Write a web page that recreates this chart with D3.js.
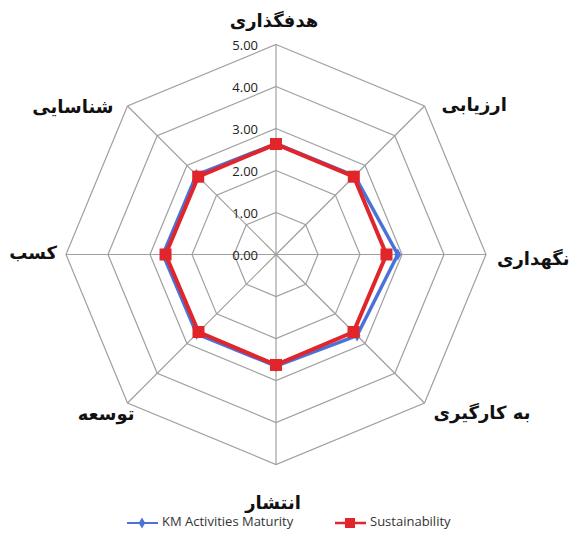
<!DOCTYPE html>
<html>
<head>
<meta charset="utf-8">
<script src="https://cdn.jsdelivr.net/npm/d3@7"></script>
<style>
  body { margin: 0; background: #fff; }
  .axisLabel { font-family: "DejaVu Sans", sans-serif; font-weight: bold; font-size: 18px; fill: #111; }
  .tick { font-family: "Open Sans", sans-serif; font-size: 13px; fill: #222; }
  .legend { font-family: "Open Sans", sans-serif; font-size: 13px; fill: #333; }
</style>
</head>
<body>
<svg id="svgRadar" width="570" height="541"></svg>
<script>
// axes, clockwise from the top
var axes = ["هدفگذاری", "ارزیابی", "نگهداری", "به کارگیری", "انتشار", "توسعه", "کسب", "شناسایی"];
var ticks = [0, 1, 2, 3, 4, 5];
var seriesNames = ["KM Activities Maturity", "Sustainability"];
var maturity = [2.64, 2.65, 2.90, 2.73, 2.66, 2.67, 2.69, 2.68];
var sustainability = [2.63, 2.62, 2.63, 2.61, 2.63, 2.61, 2.63, 2.62];

var colors = d3.scaleOrdinal(seriesNames, ["#4a72d8", "#e0252b"]);

// label offsets from the outer vertex, per axis (layout only)
var labelOffsets = [[-2, -23, "middle"], [17, 0, "start"], [11, 5, "start"], [9, 11, "start"],
  [-3, 39, "middle"], [7, 12, "end"], [-9, -1, "end"], [-14, 2, "end"]];

function makeRadar(svgID) {
  /*   Draws the radar chart.
       Args:
         svgID    The id of the svg.
  */
  var svg = d3.select("#svg" + svgID),
    cx = 276, cy = 254.5,
    g = svg.append("g").attr("transform", "translate(" + cx + "," + cy + ")");

  var r = d3.scaleLinear().domain([0, 5]).range([0, 210]);
  var angle = d3.scaleLinear().domain([0, axes.length]).range([0, 2 * Math.PI]);

  function point(i, v) {
    var a = angle(i);
    return [Math.sin(a) * r(v), -Math.cos(a) * r(v)];
  }

  // rings
  g.selectAll(".ring")
    .data(ticks.slice(1))
    .enter().append("polygon")
    .attr("class", "ring")
    .attr("points", function(t) {
      return axes.map(function(d, i) { return point(i, t).join(","); }).join(" ");
    })
    .attr("fill", "none")
    .attr("stroke", "#a0a0a0")
    .attr("stroke-width", 1.2);

  // spokes
  g.selectAll(".spoke")
    .data(axes)
    .enter().append("line")
    .attr("class", "spoke")
    .attr("x1", 0).attr("y1", 0)
    .attr("x2", function(d, i) { return point(i, 5)[0]; })
    .attr("y2", function(d, i) { return point(i, 5)[1]; })
    .attr("stroke", "#a0a0a0")
    .attr("stroke-width", 1.2);

  // tick labels
  g.selectAll(".tick")
    .data(ticks)
    .enter().append("text")
    .attr("class", "tick")
    .attr("x", -18)
    .attr("y", function(t) { return -r(t) + 2; })
    .attr("text-anchor", "end")
    .attr("dominant-baseline", "middle")
    .text(function(t) { return d3.format(".2f")(t); });

  // axis labels
  g.selectAll(".axisLabel")
    .data(axes)
    .enter().append("text")
    .attr("class", "axisLabel")
    .attr("x", function(d, i) { return point(i, 5)[0] + labelOffsets[i][0]; })
    .attr("y", function(d, i) { return point(i, 5)[1] + labelOffsets[i][1]; })
    .attr("text-anchor", function(d, i) { return labelOffsets[i][2]; })
    .attr("dominant-baseline", "middle")
    .text(function(d) { return d; });

  var line = d3.lineRadial()
    .angle(function(d, i) { return angle(i); })
    .radius(function(d) { return r(d); })
    .curve(d3.curveLinearClosed);

  var series = [[seriesNames[0], maturity], [seriesNames[1], sustainability]];

  series.forEach(function(s, k) {
    var col = colors(s[0]);
    g.append("path")
      .attr("d", line(s[1]))
      .attr("fill", "none")
      .attr("stroke", col)
      .attr("stroke-width", k == 0 ? 3.5 : 4)
      .attr("stroke-linejoin", "round");

    var m = g.selectAll(".m" + k)
      .data(s[1])
      .enter();
    if (k == 0) {
      m.append("path")
        .attr("d", d3.symbol(d3.symbolDiamond, 40))
        .attr("transform", function(d, i) { return "translate(" + point(i, d) + ")"; })
        .attr("fill", col);
    } else {
      m.append("rect")
        .attr("x", function(d, i) { return point(i, d)[0] - 6; })
        .attr("y", function(d, i) { return point(i, d)[1] - 6; })
        .attr("width", 12).attr("height", 12)
        .attr("fill", col);
    }
  });

  // legend
  var legendX = [127, 335];
  var lg = svg.selectAll(".lg")
    .data(seriesNames)
    .enter().append("g")
    .attr("class", "lg")
    .attr("transform", function(d, i) { return "translate(" + legendX[i] + ",523)"; });

  lg.append("line")
    .attr("x1", 0).attr("x2", 31)
    .attr("stroke", function(d) { return colors(d); })
    .attr("stroke-width", function(d, i) { return i == 0 ? 2 : 2.5; });

  lg.each(function(d, i) {
    var el = d3.select(this);
    if (i == 0) {
      el.append("path").attr("d", d3.symbol(d3.symbolDiamond, 36))
        .attr("transform", "translate(15,0)").attr("fill", colors(d));
    } else {
      el.append("rect").attr("x", 10).attr("y", -5).attr("width", 10).attr("height", 10)
        .attr("fill", colors(d));
    }
  });

  lg.append("text")
    .attr("class", "legend")
    .attr("x", 35)
    .attr("dominant-baseline", "middle")
    .text(function(d) { return d; });
}

makeRadar("Radar");
</script>
</body>
</html>
